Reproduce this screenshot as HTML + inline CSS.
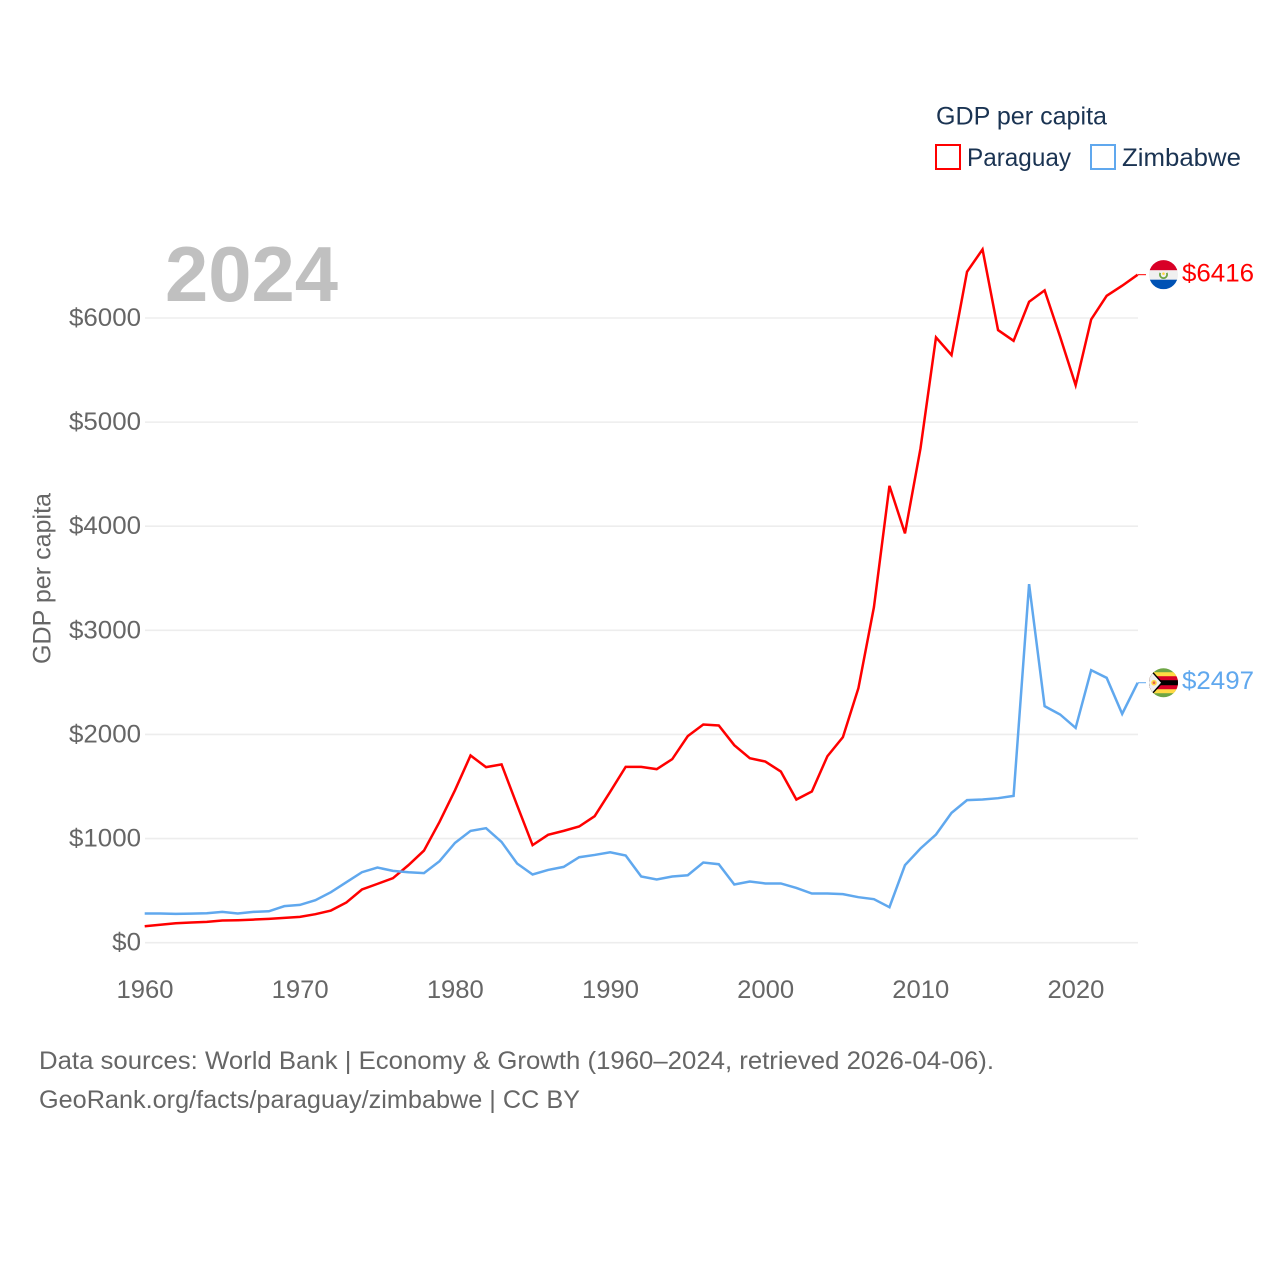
<!DOCTYPE html>
<html lang="en">
<head>
<meta charset="utf-8">
<title>GDP per capita: Paraguay and Zimbabwe</title>
<style>
html,body{margin:0;padding:0;background:#fff;}
svg{display:block;font-family:"Liberation Sans",sans-serif;}
</style>
</head>
<body>
<svg id="chart" xmlns="http://www.w3.org/2000/svg" width="1280" height="1280" viewBox="0 0 1280 1280">
  <defs>
    <clipPath id="flag-clip"><circle cx="0" cy="0" r="14.5"></circle></clipPath>
  </defs>
  <rect x="0" y="0" width="1280" height="1280" fill="#fff"></rect>
  <g id="grid"></g>
  <g id="y-ticks"></g>
  <g id="x-ticks"></g>
  <text x="165" y="301" font-size="78" font-weight="700" fill="#c0c0c0" textLength="173" lengthAdjust="spacingAndGlyphs">2024</text>
  <text transform="translate(50.5,664) rotate(-90)" font-size="25" fill="#666" textLength="171" lengthAdjust="spacingAndGlyphs">GDP per capita</text>
  <g id="series"></g>

  <g id="flag-paraguay">
    <g clip-path="url(#flag-clip)">
      <rect x="-15" y="-15" width="30" height="30" fill="#f0f0f0"></rect>
      <rect x="-15" y="-15" width="30" height="10.5" fill="#d80027"></rect>
      <rect x="-15" y="5" width="30" height="10" fill="#0052b4"></rect>
      <path d="M-3.2,-1.8 A3.6,3.6 0 1 0 3.2,-1.8" fill="none" stroke="#6da544" stroke-width="1.7"></path>
      <circle cx="0" cy="-1" r="1.3" fill="#ffda44"></circle>
    </g>
  </g>
  <g id="flag-zimbabwe">
    <g clip-path="url(#flag-clip)">
      <rect x="-15" y="-15" width="30" height="30" fill="#6da544"></rect>
      <rect x="-15" y="-10.5" width="30" height="21" fill="#ffda44"></rect>
      <rect x="-15" y="-6.5" width="30" height="13" fill="#d80027"></rect>
      <rect x="-15" y="-2.5" width="30" height="5" fill="#000"></rect>
      <polygon points="-15,-16 -15,16 -0.5,0" fill="#000"></polygon>
      <polygon points="-15,-14 -15,14 -2.5,0" fill="#f0f0f0"></polygon>
      <circle cx="-9.5" cy="0" r="2.8" fill="#ffda44"></circle>
      <circle cx="-9.5" cy="0" r="1.3" fill="#e8604c"></circle>
    </g>
  </g>

  <g>
    <text x="936" y="124.5" font-size="25" fill="#1a3352" textLength="171" lengthAdjust="spacingAndGlyphs">GDP per capita</text>
    <g>
      <rect x="936" y="145" width="24" height="24" fill="#fff" stroke="#ff0000" stroke-width="2"></rect>
      <text x="967" y="166" font-size="25" fill="#1a3352" textLength="104" lengthAdjust="spacingAndGlyphs">Paraguay</text>
    </g>
    <g>
      <rect x="1091" y="145" width="24" height="24" fill="#fff" stroke="#60a8ee" stroke-width="2"></rect>
      <text x="1122" y="166" font-size="25" fill="#1a3352" textLength="119" lengthAdjust="spacingAndGlyphs">Zimbabwe</text>
    </g>
  </g>

  <text x="39" y="1069" font-size="25" fill="#666" textLength="955" lengthAdjust="spacingAndGlyphs">Data sources: World Bank | Economy &amp; Growth (1960–2024, retrieved 2026-04-06).</text>
  <text x="39" y="1108" font-size="25" fill="#666" textLength="541" lengthAdjust="spacingAndGlyphs">GeoRank.org/facts/paraguay/zimbabwe | CC BY</text>
</svg>

<script>
const firstYear = 1960;
const lastYear = 2024;
const yTickValues = [0, 1000, 2000, 3000, 4000, 5000, 6000];
const xTickValues = [1960, 1970, 1980, 1990, 2000, 2010, 2020];
const paraguayValues = [
  158, 172, 187, 194, 200, 213, 216, 222, 229, 238,
  248, 274, 309, 386, 511, 565, 620, 745, 885, 1160,
  1465, 1798, 1686, 1712, 1321, 937, 1036, 1074, 1116, 1215,
  1449, 1689, 1689, 1667, 1763, 1984, 2096, 2086, 1897, 1772,
  1740, 1644, 1375, 1452, 1791, 1974, 2445, 3223, 4388, 3931,
  4747, 5814, 5644, 6444, 6659, 5884, 5781, 6156, 6265, 5820,
  5355, 5986, 6213, 6310, 6416
];
const zimbabweValues = [
  280, 280, 277, 279, 283, 296, 280, 296, 302, 351,
  363, 408, 485, 581, 677, 722, 690, 677, 668, 783,
  959, 1074, 1100, 968, 761, 655, 699, 728, 821, 843,
  869, 837, 636, 607, 636, 648, 770, 754, 559, 588,
  569, 569, 526, 472, 472, 466, 437, 418, 341, 745,
  905, 1039, 1247, 1369, 1375, 1388, 1410, 3444, 2272, 2192,
  2063, 2618, 2544, 2198, 2497
];
const paraguayColor = '#ff0000';
const zimbabweColor = '#60a8ee';

const SVG_NS = 'http://www.w3.org/2000/svg';
function xScale(year) {
  return 144.7 + (year - firstYear) * (1137.7 - 144.7) / (lastYear - firstYear);
}
function yScale(value) {
  return 942.7 - value * 624.7 / 6000;
}
function make(tag, parent, attrs) {
  const el = document.createElementNS(SVG_NS, tag);
  Object.keys(attrs).forEach(function (k) { el.setAttribute(k, attrs[k]); });
  parent.appendChild(el);
  return el;
}

const gridGroup = document.getElementById('grid');
const yTickGroup = document.getElementById('y-ticks');
const xTickGroup = document.getElementById('x-ticks');
const seriesGroup = document.getElementById('series');

yTickValues.forEach(function (v) {
  const line = make('line', gridGroup, { x1: 145, x2: 1138, y1: yScale(v), y2: yScale(v), stroke: '#ededed', 'stroke-width': 1.6 });
  
  
  const text = '$' + v;
  const label = make('text', yTickGroup, { x: 141, y: yScale(v) + 8, 'text-anchor': 'end', 'font-size': 25, fill: '#666', textLength: text.length * 14.4, lengthAdjust: 'spacingAndGlyphs' });
  
  
  label.textContent = text;
});

xTickValues.forEach(function (year) {
  const label = make('text', xTickGroup, { x: xScale(year) + 0.3, y: 998, 'text-anchor': 'middle', 'font-size': 25, fill: '#666', textLength: 57, lengthAdjust: 'spacingAndGlyphs' });
  
  
  label.textContent = String(year);
});

function linePoints(values) {
  return values.map(function (v, i) {
    return xScale(firstYear + i).toFixed(2) + ',' + yScale(v).toFixed(2);
  }).join(' ');
}

const paraguayLine = make('polyline', seriesGroup, { points: linePoints(paraguayValues), fill: 'none', stroke: paraguayColor, 'stroke-width': 2.5, 'stroke-linejoin': 'miter' });



const zimbabweLine = make('polyline', seriesGroup, { points: linePoints(zimbabweValues), fill: 'none', stroke: zimbabweColor, 'stroke-width': 2.5, 'stroke-linejoin': 'miter' });



const paraguayLast = paraguayValues[paraguayValues.length - 1];
const zimbabweLast = zimbabweValues[zimbabweValues.length - 1];

const paraguayLeader = make('line', seriesGroup, { x1: 1138, x2: 1146, y1: yScale(paraguayLast), y2: yScale(paraguayLast), stroke: paraguayColor, 'stroke-width': 1 });



const zimbabweLeader = make('line', seriesGroup, { x1: 1138, x2: 1146, y1: yScale(zimbabweLast), y2: yScale(zimbabweLast), stroke: zimbabweColor, 'stroke-width': 1 });



const paraguayValueLabel = make('text', seriesGroup, { x: 1182, y: yScale(paraguayLast) + 7, 'font-size': 25, fill: paraguayColor, textLength: 72, lengthAdjust: 'spacingAndGlyphs' });


paraguayValueLabel.textContent = '$' + paraguayLast;

const zimbabweValueLabel = make('text', seriesGroup, { x: 1182, y: yScale(zimbabweLast) + 6.5, 'font-size': 25, fill: zimbabweColor, textLength: 72, lengthAdjust: 'spacingAndGlyphs' });


zimbabweValueLabel.textContent = '$' + zimbabweLast;

document.getElementById('flag-paraguay').setAttribute('transform', 'translate(1163.5,' + yScale(paraguayLast) + ')');
document.getElementById('flag-zimbabwe').setAttribute('transform', 'translate(1163.5,' + yScale(zimbabweLast) + ')');
</script>
</body>
</html>
